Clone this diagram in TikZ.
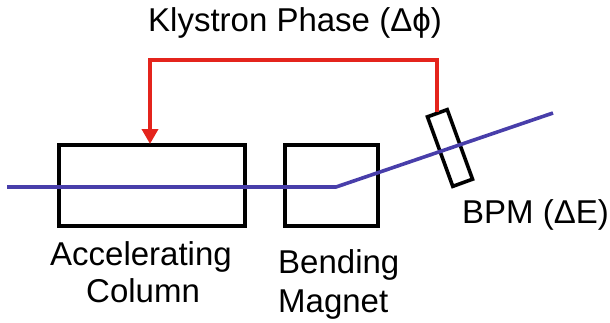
\documentclass[tikz,border=0pt]{standalone}
\usepackage{fontspec}
\setmainfont{Liberation Sans}
\usetikzlibrary{arrows.meta}
\definecolor{fbred}{RGB}{228,36,28}
\definecolor{beamblue}{RGB}{72,62,170}
\tikzset{
  box/.style={draw=black, line width=3.6pt, inner sep=0pt},
  beam/.style={draw=beamblue, line width=3.6pt},
  feedback/.style={draw=fbred, line width=3.6pt, -{Triangle[width=16pt,length=15pt]}},
  lbl/.style={font=\fontsize{33}{40}\selectfont, inner sep=0pt, anchor=base west},
}
\begin{document}
\begin{tikzpicture}[x=1pt,y=-1pt]
\useasboundingbox (0,0) rectangle (610,322);
% boxes
\node[box, minimum width=186pt, minimum height=81pt] (acc) at (152,185.5) {};
\node[box, minimum width=93pt, minimum height=81pt] (bend) at (331.5,185.5) {};
\node[box, minimum width=21pt, minimum height=74pt, rotate=20] (bpm) at (450,148) {};
% beam
\coordinate (bstart) at (7,187);
\coordinate (kink) at (336,187);
\coordinate (bend2) at (553,113);
\draw[beam] (bstart) -- (kink) -- (bend2);
% feedback
\coordinate (rt) at (440,60);
\coordinate (tgt) at (150,144);
\draw[feedback] (bpm.north) -- (bpm.north |- rt) -| (tgt);
% labels
\node[lbl] (kly) at (148,31) {Klystron Phase (Δϕ)};
\node[lbl] (acl1) at (50,265) {Accelerating};
\node[lbl] (acl2) at (86,302) {Column};
\node[lbl] (bl1) at (278,273) {Bending};
\node[lbl] (bl2) at (278,312) {Magnet};
\node[lbl] (bpml) at (462,223) {BPM (ΔE)};
\end{tikzpicture}
\end{document}
